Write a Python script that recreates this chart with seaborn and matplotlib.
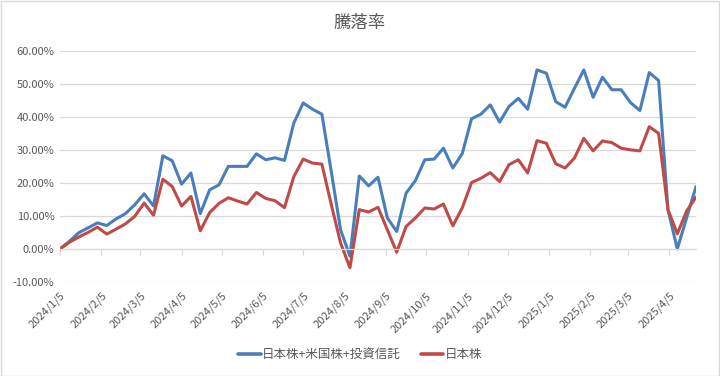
import pandas as pd
import numpy as np
import matplotlib
matplotlib.use("Agg")
import matplotlib.pyplot as plt
import matplotlib.ticker as mticker
import seaborn as sns

# weekly return (%) since 2024/1/5
dates = pd.date_range("2024-01-05", periods=69, freq="7D")
all_assets = [
    0.0, 2.3, 4.9, 6.4, 7.9, 7.1, 9.1, 10.7, 13.4, 16.7,
    13.0, 28.2, 26.7, 19.6, 23.0, 10.7, 17.9, 19.4, 25.0, 25.0,
    25.0, 28.8, 27.0, 27.6, 26.8, 38.1, 44.2, 42.3, 40.8, 23.5,
    5.8, -2.2, 22.1, 19.1, 21.7, 9.4, 5.3, 16.9, 20.7, 27.0,
    27.2, 30.5, 24.5, 28.8, 39.4, 40.8, 43.6, 38.4, 43.1, 45.6,
    42.3, 54.2, 53.2, 44.6, 42.9, 48.6, 54.2, 45.9, 52.0, 48.2,
    48.2, 44.3, 41.9, 53.4, 51.0, 11.9, 0.0, 9.5, 18.9,
]
jp_stocks = [
    0.0, 2.0, 3.6, 5.0, 6.6, 4.5, 6.0, 7.6, 9.9, 13.9,
    10.2, 21.1, 18.9, 13.0, 15.9, 5.5, 11.0, 13.8, 15.5, 14.5,
    13.6, 17.1, 15.3, 14.6, 12.5, 21.9, 27.2, 26.0, 25.7, 13.5,
    1.8, -5.7, 11.9, 11.2, 12.6, 5.8, -1.0, 6.8, 9.4, 12.4,
    12.1, 13.6, 7.0, 12.4, 20.1, 21.4, 23.1, 20.4, 25.5, 27.0,
    23.0, 32.8, 32.0, 25.8, 24.5, 27.5, 33.5, 29.7, 32.7, 32.2,
    30.5, 30.0, 29.7, 37.0, 35.0, 11.9, 4.6, 11.5, 15.7,
]
series_names = ["日本株+米国株+投資信託", "日本株"]
tick_dates = pd.date_range("2024-01-05", "2025-04-05", freq=pd.DateOffset(months=1))

df = pd.concat([
    pd.DataFrame({"date": dates, "value": all_assets, "series": series_names[0]}),
    pd.DataFrame({"date": dates, "value": jp_stocks, "series": series_names[1]}),
])

sns.set_theme(style="white")
plt.rcParams["font.family"] = ["Noto Sans CJK JP", "DejaVu Sans"]

fig, ax = plt.subplots(figsize=(7.2, 3.76), dpi=100)
fig.subplots_adjust(left=0.0833, right=0.9667, top=0.865, bottom=0.25)

sns.lineplot(data=df, x="date", y="value", hue="series", palette=["#4A7EBB", "#BE4B48"],
             linewidth=2.2, ax=ax, legend=False)

ax.set_ylim(-10, 60)
ax.set_yticks(np.arange(-10, 61, 10))
ax.yaxis.set_major_formatter(mticker.FuncFormatter(lambda v, p: f"{v:.2f}%"))
ax.set_xlim(dates[0], dates[-1])
ax.grid(axis="y", color="#D9D9D9", linewidth=0.9)
ax.set_axisbelow(True)
ax.set_xlabel("")
ax.set_ylabel("")
for s in ["top", "right", "left"]:
    ax.spines[s].set_visible(False)

# axis line and ticks at 0%, labels at bottom
ax.spines["bottom"].set_position(("data", 0))
ax.spines["bottom"].set_color("#D9D9D9")
ax.spines["bottom"].set_linewidth(0.9)
ax.set_xticks(tick_dates)
ax.tick_params(axis="x", direction="out", length=4, color="#D9D9D9", width=0.9, labelbottom=False, bottom=True)
ax.tick_params(axis="y", length=0, labelsize=8, labelcolor="#595959", pad=4)

sec = ax.secondary_xaxis(0.0)
sec.set_xticks(tick_dates)
sec.set_xticklabels([f"{d.year}/{d.month}/{d.day}" for d in tick_dates],
                    rotation=45, ha="right", rotation_mode="anchor")
sec.tick_params(axis="x", length=0, labelsize=8, labelcolor="#595959", pad=6)
sec.spines["bottom"].set_visible(False)

fig.text(0.5, 0.94, "騰落率", ha="center", va="center", fontsize=12.5, color="#595959")

handles = [plt.Line2D([], [], color=c, linewidth=2.6) for c in ["#4A7EBB", "#BE4B48"]]
fig.legend(handles, series_names, loc="center", bbox_to_anchor=(0.5, 0.056), ncol=2,
           frameon=False, fontsize=9, handlelength=1.8, handletextpad=0.1,
           columnspacing=1.6, labelcolor="#595959")

fig.patches.append(plt.Rectangle((0.001, 0.001), 0.997, 0.997, transform=fig.transFigure,
                                 fill=False, edgecolor="#D9D9D9", linewidth=1))

fig.savefig("out.png", dpi=100)
